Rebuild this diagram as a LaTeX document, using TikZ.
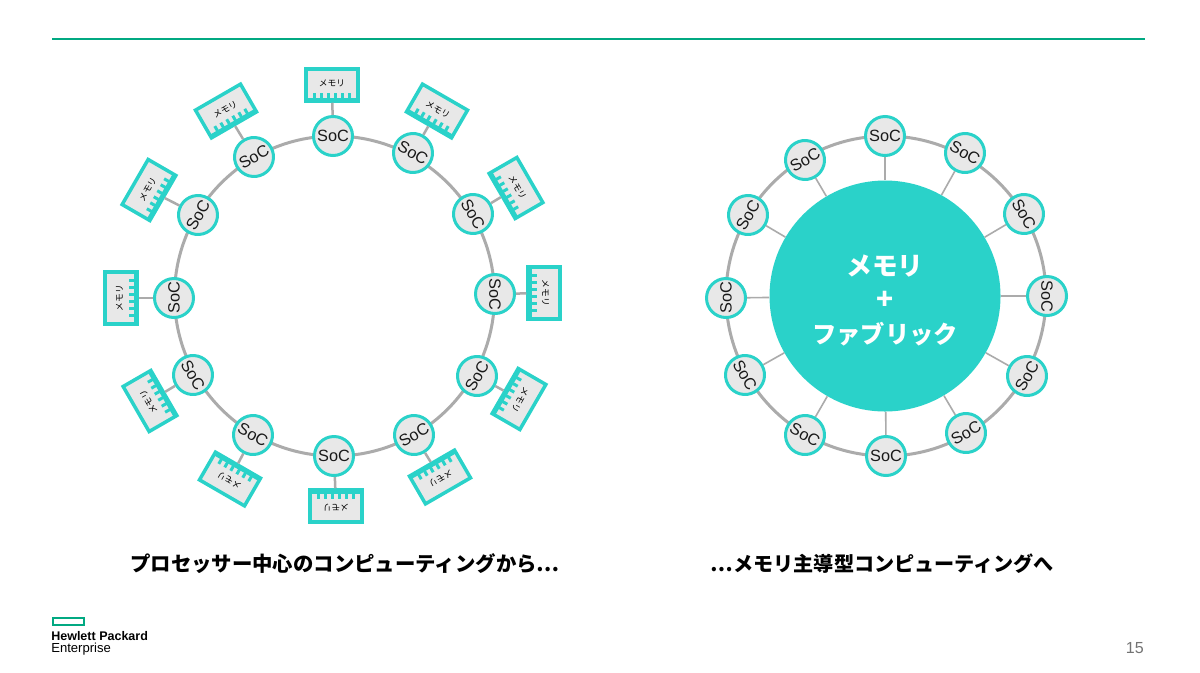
\documentclass[tikz,border=0pt]{standalone}
\usepackage{fontspec}
\setmainfont{Liberation Sans}
\newfontfamily\cjk{Noto Sans CJK JP}
\definecolor{teal1}{HTML}{2AD2C9}
\definecolor{hpegreen}{HTML}{01A982}
\definecolor{ringgrey}{HTML}{ABABAB}
\definecolor{cellgrey}{HTML}{E8E8E8}
\def\px{0.025cm}
\tikzset{
  x=\px,y=\px,
  ringline/.style={circle,draw=ringgrey,line width=3*\px,minimum size=320*\px,inner sep=0pt},
  socnode/.style={circle,draw=teal1,fill=cellgrey,line width=3*\px,minimum size=39*\px,inner sep=0pt,font=\fontsize{11.6pt}{14pt}\selectfont,text=black!90},
  memnode/.style={rectangle,draw=teal1,fill=cellgrey,line width=3.5*\px,minimum width=52*\px,minimum height=32*\px,inner sep=0pt,font=\cjk\fontsize{6.2pt}{8pt}\selectfont,text=black},
  memlink/.style={draw=ringgrey,line width=2.5*\px},
  spoke/.style={draw=ringgrey,line width=1.6*\px},
  tooth/.style={fill=teal1,draw=none},
  caption/.style={font=\cjk\bfseries\fontsize{14.3pt}{18pt}\selectfont,text=black,inner sep=0pt},
}
\begin{document}
\begin{tikzpicture}
\useasboundingbox (0,0) rectangle (1200,-672);
\fill[white] (0,0) rectangle (1200,-672);
% top rule
\coordinate (ruleA) at (52,-39);
\coordinate (ruleB) at (1145,-39);
\draw[draw=hpegreen,line width=1.8*\px] (ruleA) -- (ruleB);
% rings
\node[ringline] (ringL) at (334.5,-296) {};
\node[ringline] (ringR) at (886,-296) {};
% left ring: id/angle/text rotation/soc x/soc y/mem x/mem y
\foreach \i/\a/\t/\sx/\sy/\mx/\my in {
 0/0/0/333/136/332/85,
 1/30/-30/413/153/437/111,
 2/60/-60/473/214/516/188,
 3/90/-90/495/294/544/293,
 4/120/60/477/376/519/399,
 5/150/30/414/435/440/477,
 6/180/0/334/456/336/506,
 7/210/-30/253/435/230/479,
 8/240/-60/193/375/150/401,
 9/270/90/174/298/121/298,
 10/300/60/198/215/149/190,
 11/330/30/254/157/226/111}{
  \node[socnode,rotate=\t] (ls\i) at (\sx,-\sy) {SoC};
  \node[memnode,rotate=-\a] (lm\i) at (\mx,-\my) {\raisebox{2.5pt}{メモリ}};
  \begin{scope}[shift={(lm\i.center)},rotate=-\a]
    \fill[tooth] (-26,-16) rectangle (26,-12.5);
    \foreach \k in {-17.3,-10.4,-3.5,3.5,10.4,17.3}
      \fill[tooth] (\k-1.5,-15) rectangle (\k+1.5,-7.5);
  \end{scope}
  \draw[memlink] (ls\i) -- (lm\i);
}
% right ring
\node[circle,fill=teal1,minimum size=231*\px,inner sep=0pt] (core) at (885,-296) {};
\node[align=center,text=white,inner sep=0pt,
      font=\cjk\bfseries\fontsize{18.3pt}{24.2pt}\selectfont] (coretext) at (885,-300.5)
      {メモリ\\{\fontsize{20pt}{24.2pt}\selectfont +}\\{\fontsize{17.3pt}{24.2pt}\selectfont ファブリック}};
\foreach \i/\t/\sx/\sy in {
 0/0/885/136,
 1/-30/965/153,
 2/-60/1024/214,
 3/-90/1047/296,
 4/60/1027/376,
 5/30/966/433,
 6/0/886/456,
 7/-30/805/435,
 8/-60/745/375,
 9/90/726/298,
 10/60/748/215,
 11/30/805/160}{
  \node[socnode,rotate=\t] (rs\i) at (\sx,-\sy) {SoC};
  \draw[spoke] (rs\i) -- (core);
}
% captions
\node[caption,anchor=center,font=\cjk\bfseries\fontsize{14.5pt}{18pt}\selectfont] (capL) at (345,-564) {プロセッサー中心のコンピューティングから…};
\node[caption,anchor=center] (capR) at (882.5,-564) {…メモリ主導型コンピューティングへ};
% logo
\node[draw=hpegreen,line width=2*\px,minimum width=31*\px,minimum height=7*\px,inner sep=0pt,anchor=north west] (logo) at (52,-617) {};
\node[anchor=base west,inner sep=0pt,font=\bfseries\fontsize{8.9pt}{10pt}\selectfont,text=black] (hp) at (51,-640) {Hewlett Packard};
\node[anchor=base west,inner sep=0pt,font=\fontsize{9.3pt}{10pt}\selectfont,text=black] (ent) at (51,-652) {Enterprise};
\node[anchor=base east,inner sep=0pt,font=\fontsize{11.4pt}{13pt}\selectfont,text=black!55] (pg) at (1144,-653) {15};
\end{tikzpicture}
\end{document}
